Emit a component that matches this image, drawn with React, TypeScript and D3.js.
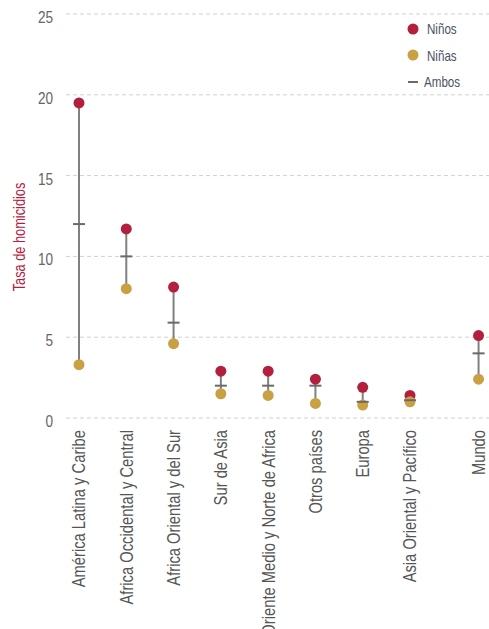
import * as d3 from "d3";

const regions = [
  "América Latina y Caribe",
  "Africa Occidental y Central",
  "Africa Oriental y del Sur",
  "Sur de Asia",
  "Oriente Medio y Norte de Africa",
  "Otros países",
  "Europa",
  "Asia Oriental y Pacífico",
  "Mundo",
];
const ninos = [19.5, 11.7, 8.1, 2.9, 2.9, 2.4, 1.9, 1.4, 5.1];
const ninas = [3.3, 8.0, 4.6, 1.5, 1.4, 0.9, 0.8, 1.0, 2.4];
const ambos = [12.0, 10.0, 5.9, 2.0, 2.0, 2.0, 1.0, 1.1, 4.0];
const yTicks = [0, 5, 10, 15, 20, 25];

const W = 489;
const H = 629;
const RED = "#b3203e";
const GOLD = "#c9a143";
const FONT = "'Liberation Sans', Arial, sans-serif";
// no narrow face installed, so squeeze the regular one
const NARROW = 0.8;

export default function App() {
  // the world total sits a little apart from the regions
  const slot = (i: number) => (i === regions.length - 1 ? i + 0.45 : i);

  const x = d3.scaleLinear().domain([0, 7]).range([79, 410]);
  const y = d3.scaleLinear().domain([0, 25]).range([418, 14]);

  const data = regions.map((name, i) => ({
    name,
    cx: x(slot(i)),
    boys: ninos[i],
    girls: ninas[i],
    both: ambos[i],
  }));

  return (
    <svg
      width={W}
      height={H}
      style={{ position: "absolute", left: 0, top: 0, background: "#fff" }}
      fontFamily={FONT}
    >
      {/* grid + y ticks */}
      {yTicks.map((t) => (
        <g key={t}>
          <line
            x1={66}
            x2={W}
            y1={y(t)}
            y2={y(t)}
            stroke="#d0d0d0"
            strokeWidth={1}
            strokeDasharray="4,3"
          />
          <text
            transform={`translate(53,${y(t) + 3}) scale(${NARROW},1)`}
            dy="0.35em"
            textAnchor="end"
            fontSize={17}
            fill="#666"
          >
            {t}
          </text>
        </g>
      ))}

      <text
        transform={`translate(25,237) rotate(-90) scale(${NARROW},1)`}
        textAnchor="middle"
        fontSize={16}
        fill={RED}
      >
        Tasa de homicidios
      </text>

      {/* ranges */}
      {data.map((d) => (
        <g key={d.name}>
          <line
            x1={d.cx}
            x2={d.cx}
            y1={y(d.boys)}
            y2={y(d.girls)}
            stroke="#808080"
            strokeWidth={2}
          />
          <circle cx={d.cx} cy={y(d.boys)} r={5.5} fill={RED} />
          <circle cx={d.cx} cy={y(d.girls)} r={5.5} fill={GOLD} />
          <line
            x1={d.cx - 6}
            x2={d.cx + 6}
            y1={y(d.both)}
            y2={y(d.both)}
            stroke="#6a6a6a"
            strokeWidth={2}
          />
          <text
            transform={`translate(${d.cx + 1},430) rotate(-90) scale(0.82,1)`}
            dy="0.3em"
            textAnchor="end"
            fontSize={18}
            fill="#555"
          >
            {d.name}
          </text>
        </g>
      ))}

      {/* legend */}
      <g fontSize={14.5} fill="#4b5263">
        <circle cx={413} cy={29} r={5.5} fill={RED} />
        <text transform={`translate(427,29) scale(${NARROW},1)`} dy="0.35em">
          Niños
        </text>
        <circle cx={413} cy={55} r={5.5} fill={GOLD} />
        <text transform={`translate(427,56) scale(${NARROW},1)`} dy="0.35em">
          Niñas
        </text>
        <line x1={408} x2={418} y1={82} y2={82} stroke="#6a6a6a" strokeWidth={2} />
        <text transform={`translate(424,82) scale(${NARROW},1)`} dy="0.35em">
          Ambos
        </text>
      </g>
    </svg>
  );
}
